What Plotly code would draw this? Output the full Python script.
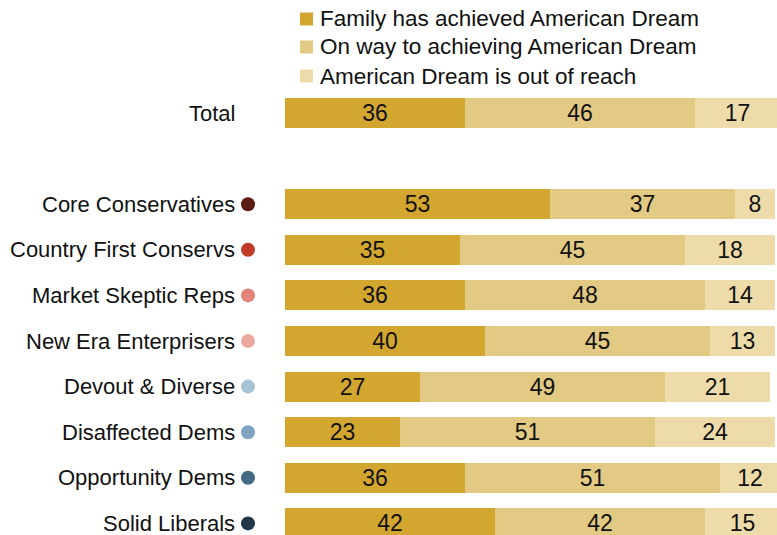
import plotly.graph_objects as go

categories = ["Total", "Core Conservatives", "Country First Conservs", "Market Skeptic Reps",
              "New Era Enterprisers", "Devout & Diverse", "Disaffected Dems",
              "Opportunity Dems", "Solid Liberals"]
positions = [0, 2, 3, 4, 5, 6, 7, 8, 9]
achieved = [36, 53, 35, 36, 40, 27, 23, 36, 42]
on_way = [46, 37, 45, 48, 45, 49, 51, 51, 42]
out_of_reach = [17, 8, 18, 14, 13, 21, 24, 12, 15]
series_names = ["Family has achieved American Dream", "On way to achieving American Dream",
                "American Dream is out of reach"]
series_colors = ["#D3A72F", "#E2CA84", "#EDDCAA"]
dot_colors = [None, "#5E1A14", "#C23B2A", "#E4837A", "#EDA9A0", "#A9C2D6", "#7FA3C0", "#456A85", "#22364A"]

FONT = "Liberation Sans"
W, H = 777, 535
Y_RANGE = [9.254, -2.478]
TEXT_SHIFT = 0.05  # nudges value labels down ~2px to centre them optically
fig = go.Figure()
series = [achieved, on_way, out_of_reach]
base = [0] * len(positions)
for name, vals, col in zip(series_names, series, series_colors):
    fig.add_trace(go.Bar(
        y=positions, x=vals, name=name, orientation="h",
        marker=dict(color=col, line=dict(width=0)),
        width=0.66, textposition="none",
        hoverinfo="skip", cliponaxis=False, showlegend=False,
    ))
    mids = [b + v / 2 for b, v in zip(base, vals)]
    fig.add_trace(go.Scatter(
        x=mids, y=positions, mode="text", text=[str(v) for v in vals], yaxis="y2",
        textposition="middle center", textfont=dict(family=FONT, size=23, color="#111111"),
        showlegend=False, hoverinfo="skip", cliponaxis=False,
    ))
    base = [b + v for b, v in zip(base, vals)]

dot_y = [p for p, c in zip(positions, dot_colors) if c]
dot_c = [c for c in dot_colors if c]
fig.add_trace(go.Scatter(
    x=[-7.4] * len(dot_y), y=dot_y, mode="markers",
    marker=dict(size=14, color=dot_c), showlegend=False, hoverinfo="skip", cliponaxis=False,
))

for cat, p in zip(categories, positions):
    fig.add_annotation(x=-9.6, y=p, xref="x", yref="y", text=cat, showarrow=False,
                       xanchor="right", yanchor="middle",
                       font=dict(family=FONT, size=22, color="#111111"))

# manual legend
legend_rows_px = [19, 47, 76]
for name, col, py in zip(series_names, series_colors, legend_rows_px):
    fig.add_shape(type="rect", xref="paper", yref="paper",
                  x0=300 / W, x1=313 / W, y0=1 - (py + 6.5) / H, y1=1 - (py - 6.5) / H,
                  fillcolor=col, line=dict(width=0), layer="above")
    fig.add_annotation(x=318 / W, y=1 - py / H, xref="paper", yref="paper", text=name,
                       showarrow=False, xanchor="left", yanchor="middle",
                       font=dict(family=FONT, size=22.5, color="#111111"))

fig.update_layout(
    width=W, height=H, barmode="stack",
    margin=dict(l=0, r=0, t=0, b=0, pad=0, autoexpand=False),
    paper_bgcolor="white", plot_bgcolor="white",
    xaxis=dict(range=[-57, 98.4], visible=False, fixedrange=True),
    yaxis=dict(range=Y_RANGE, visible=False, fixedrange=True),
    yaxis2=dict(range=[Y_RANGE[0] - TEXT_SHIFT, Y_RANGE[1] - TEXT_SHIFT], overlaying="y",
                visible=False, fixedrange=True),
    showlegend=False,
)
fig.write_html("out.html", config={"displayModeBar": False},
               post_script="document.body.style.margin='0';")
